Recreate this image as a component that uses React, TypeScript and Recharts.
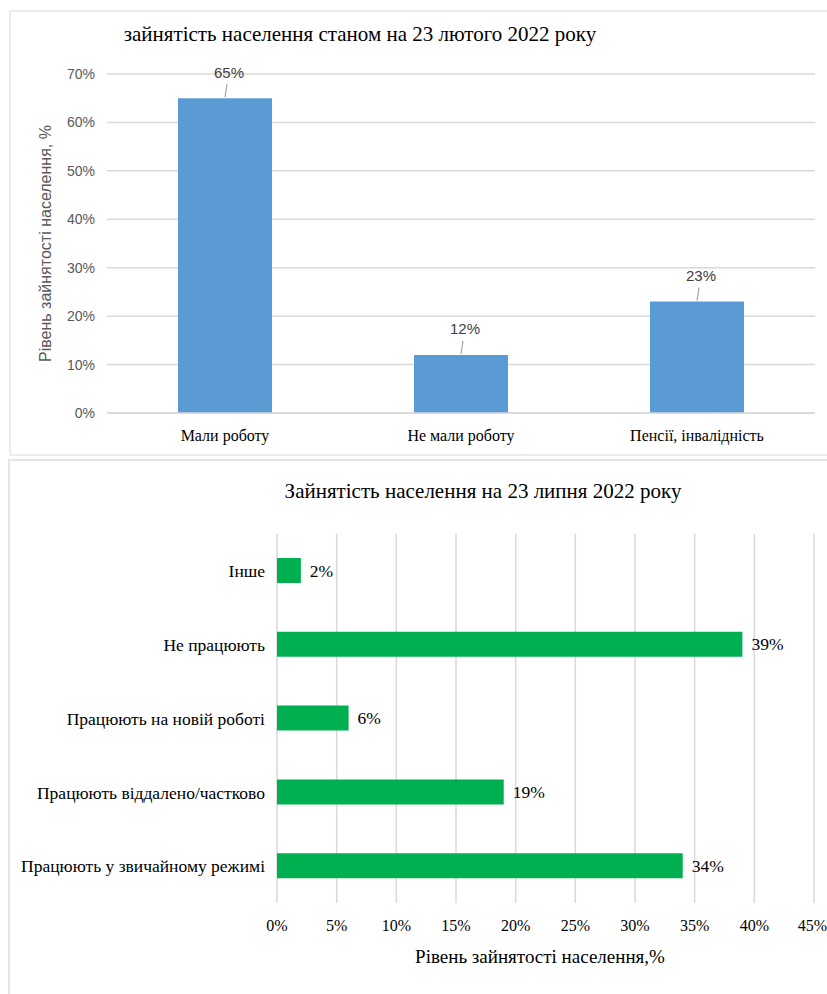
import React from 'react';
import { BarChart, Bar, XAxis, YAxis, CartesianGrid, LabelList } from 'recharts';

const febCategories = ['Мали роботу', 'Не мали роботу', 'Пенсії, інвалідність'];
const febValues = [65, 12, 23];
const febTicks = [0, 10, 20, 30, 40, 50, 60, 70];

const julCategories = [
  'Інше',
  'Не працюють',
  'Працюють на новій роботі',
  'Працюють віддалено/частково',
  'Працюють у звичайному режимі',
];
const julValues = [2, 39, 6, 19, 34];
const julTicks = [0, 5, 10, 15, 20, 25, 30, 35, 40, 45];

const febTitle = 'зайнятість населення станом на 23 лютого 2022 року';
const julTitle = 'Зайнятість населення на 23 липня 2022 року';
const febYTitle = 'Рівень зайнятості населення, %';
const julXTitle = 'Рівень зайнятості населення,%';

const febData = febCategories.map((name, i) => ({ name, value: febValues[i] }));
const julData = julCategories.map((name, i) => ({ name, value: julValues[i] }));

const SERIF = '"Liberation Serif", "Times New Roman", serif';
const SANS = '"Liberation Sans", Arial, sans-serif';
const GRID = '#d9d9d9';

const TopLabel = (props: any) => {
  const { x, y, width, value } = props;
  const cx = x + width / 2;
  return (
    <g>
      <line x1={cx} y1={y - 1} x2={cx + 2} y2={y - 14} stroke="#a6a6a6" strokeWidth={1.2} />
      <text x={cx + 4} y={y - 26} textAnchor="middle" dominantBaseline="central" fontFamily={SANS} fontSize={15} fill="#404040">
        {`${value}%`}
      </text>
    </g>
  );
};

const RightLabel = (props: any) => {
  const { x, y, width, height, value } = props;
  return (
    <text x={x + width + 9} y={y + height / 2} dominantBaseline="central" fontFamily={SERIF} fontSize={17.5} fill="#000">
      {`${value}%`}
    </text>
  );
};

const YTitle = (props: any) => {
  const vb = props.viewBox || {};
  const cy = (vb.y || 0) + (vb.height || 0) / 2;
  const cx = 45;
  return (
    <text
      x={cx}
      y={cy}
      transform={`rotate(-90, ${cx}, ${cy})`}
      textAnchor="middle"
      dominantBaseline="central"
      fontFamily={SANS}
      fontSize={16}
      fill="#595959"
    >
      {febYTitle}
    </text>
  );
};

export default function App() {
  return (
    <div style={{ position: 'absolute', left: 0, top: 0, width: 827, height: 994, overflow: 'hidden', background: '#fff' }}>
      <div style={{ position: 'absolute', left: 9, top: 10, width: 840, height: 446, border: '2px solid #ececec', boxSizing: 'border-box' }} />
      <div style={{ position: 'absolute', left: 8, top: 459, width: 840, height: 560, border: '2px solid #e6e6e6', boxSizing: 'border-box' }} />

      <div style={{ position: 'absolute', left: 0, top: 0 }}>
        <BarChart width={827} height={458} data={febData} margin={{ top: 74, right: 12, bottom: 15, left: 0 }} barCategoryGap="30%">
          <CartesianGrid vertical={false} stroke={GRID} strokeWidth={1.5} />
          <XAxis
            dataKey="name"
            height={30}
            tickLine={false}
            axisLine={{ stroke: GRID, strokeWidth: 1.5 }}
            tickMargin={11}
            tick={{ fontFamily: SERIF, fontSize: 16, fill: '#000' }}
          />
          <YAxis
            width={107}
            domain={[0, 70]}
            ticks={febTicks}
            tickFormatter={(v: number) => `${v}%`}
            tickLine={false}
            axisLine={false}
            tickMargin={6}
            tick={{ fontFamily: SANS, fontSize: 14, fill: '#595959' }}
            label={{ content: YTitle }}
          />
          <Bar dataKey="value" fill="#5b9bd5" barSize={94} isAnimationActive={false}>
            <LabelList dataKey="value" content={TopLabel} />
          </Bar>
        </BarChart>
      </div>
      <div style={{ position: 'absolute', left: 0, top: 22, width: 720, textAlign: 'center', fontFamily: SERIF, fontSize: 21, color: '#000', whiteSpace: 'nowrap' }}>
        {febTitle}
      </div>

      <div style={{ position: 'absolute', left: 0, top: 460 }}>
        <BarChart width={827} height={534} data={julData} layout="vertical" margin={{ top: 74, right: 13, bottom: 61, left: 0 }}>
          <CartesianGrid horizontal={false} stroke={GRID} strokeWidth={1.5} />
          <XAxis
            type="number"
            domain={[0, 45]}
            ticks={julTicks}
            tickFormatter={(v: number) => `${v}%`}
            height={30}
            tickLine={false}
            axisLine={false}
            tickMargin={11}
            tick={{ fontFamily: SERIF, fontSize: 16, fill: '#000' }}
          />
          <YAxis
            type="category"
            dataKey="name"
            width={277}
            tickLine={false}
            axisLine={false}
            tickMargin={6}
            tick={{ fontFamily: SERIF, fontSize: 17.5, fill: '#000' }}
          />
          <Bar dataKey="value" fill="#00b050" barSize={25} isAnimationActive={false}>
            <LabelList dataKey="value" content={RightLabel} />
          </Bar>
        </BarChart>
      </div>
      <div style={{ position: 'absolute', left: 0, top: 479, width: 966, textAlign: 'center', fontFamily: SERIF, fontSize: 21, color: '#000', whiteSpace: 'nowrap' }}>
        {julTitle}
      </div>
      <div style={{ position: 'absolute', left: 0, top: 946, width: 1080, textAlign: 'center', fontFamily: SERIF, fontSize: 19, color: '#000', whiteSpace: 'nowrap' }}>
        {julXTitle}
      </div>
    </div>
  );
}
